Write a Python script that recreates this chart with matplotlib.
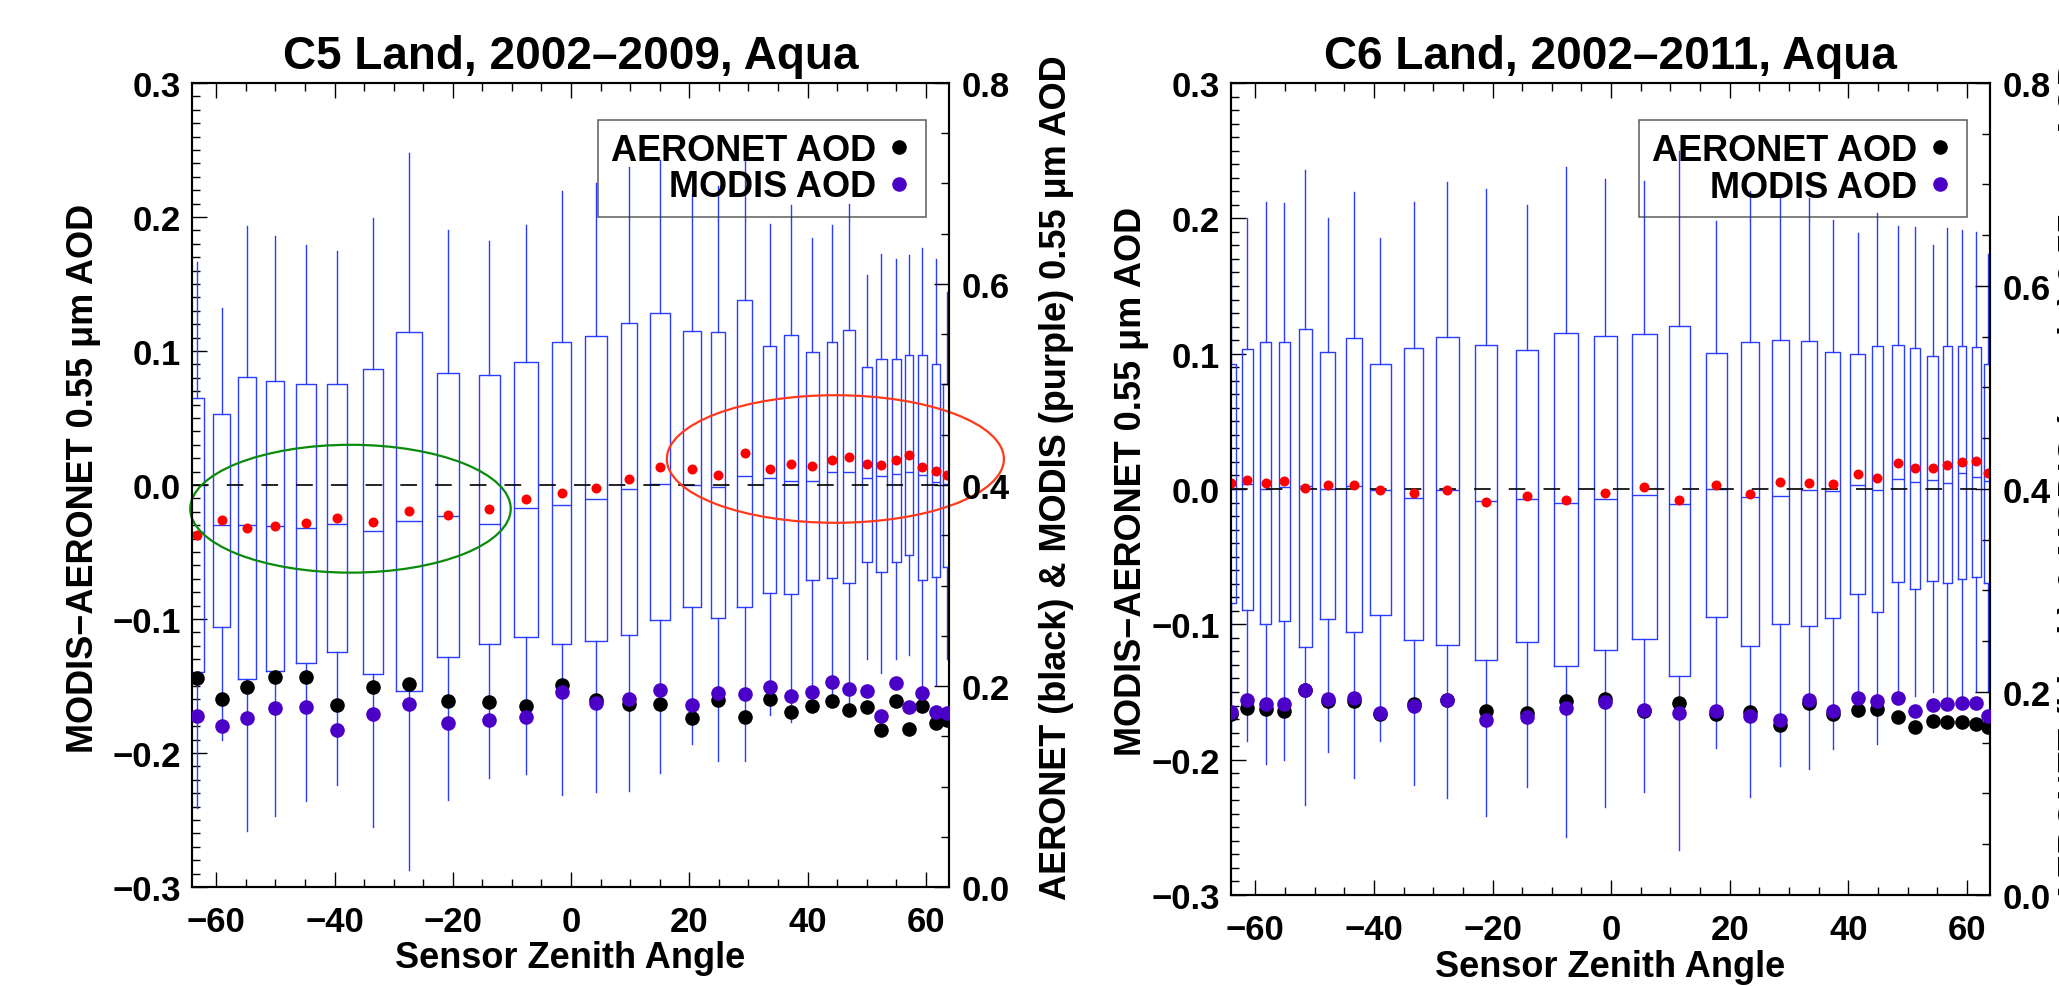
import matplotlib
matplotlib.use('Agg')
import matplotlib.pyplot as plt
from matplotlib.ticker import MultipleLocator
from matplotlib.patches import Ellipse
from matplotlib.lines import Line2D

plt.rcParams['font.family'] = ['Liberation Sans', 'DejaVu Sans']
plt.rcParams['font.weight'] = 'bold'
plt.rcParams['lines.scale_dashes'] = False

# ---- C5 (left panel) : box stats of MODIS-AERONET per zenith-angle bin ----
c5_sza = [-63.26, -59.1, -54.8, -50.06, -44.8, -39.6, -33.5, -27.4, -20.8, -13.8,
          -7.6, -1.6, 4.2, 9.8, 15.1, 20.5, 24.9, 29.4, 33.6, 37.2,
          40.8, 44.1, 47.0, 50.1, 52.5, 55.0, 57.2, 59.4, 61.7, 63.6]
c5_width = [2.3, 2.87, 2.9, 3.1, 3.26, 3.3, 3.5, 4.3, 3.7, 3.5,
            3.95, 3.3, 3.8, 2.8, 3.4, 3.05, 2.4, 2.5, 2.25, 2.4,
            2.2, 1.6, 1.9, 1.75, 1.75, 1.5, 1.4, 1.5, 1.35, 1.4]
c5_q3 = [0.0646, 0.0529, 0.0807, 0.0779, 0.0754, 0.075, 0.0864, 0.1143, 0.0839, 0.0818,
         0.0918, 0.1064, 0.1114, 0.1207, 0.1282, 0.1146, 0.1139, 0.1382, 0.1036, 0.1121,
         0.0989, 0.1064, 0.1154, 0.0879, 0.0939, 0.0939, 0.0971, 0.0971, 0.09, 0.0754]
c5_q1 = [-0.1396, -0.1057, -0.1446, -0.1389, -0.1329, -0.1246, -0.1414, -0.1539, -0.1286, -0.119,
         -0.1136, -0.119, -0.1164, -0.1121, -0.1007, -0.0907, -0.0996, -0.0914, -0.0804, -0.0811,
         -0.0711, -0.0693, -0.0732, -0.0575, -0.0646, -0.0571, -0.0521, -0.0711, -0.0689, -0.0611]
c5_med = [-0.035, -0.030, -0.030, -0.0307, -0.0318, -0.029, -0.0346, -0.0268, -0.0229, -0.029,
          -0.0168, -0.015, -0.0107, -0.0029, 0.0011, 0.0, -0.0014, 0.0064, 0.0054, 0.0032,
          0.0032, 0.01, 0.01, 0.0054, 0.0064, 0.0082, 0.01, 0.0075, 0.0021, 0.0011]
c5_whi = [0.1664, 0.1318, 0.1936, 0.186, 0.179, 0.1746, 0.1996, 0.2479, 0.19, 0.1818,
          0.1943, 0.2193, 0.2257, 0.2371, 0.2425, 0.2175, 0.223, 0.25, 0.195, 0.209,
          0.184, 0.194, 0.21, 0.157, 0.1725, 0.169, 0.172, 0.177, 0.169, 0.144]
c5_wlo = [-0.241, -0.19, -0.258, -0.247, -0.236, -0.224, -0.255, -0.287, -0.235, -0.219,
          -0.216, -0.231, -0.229, -0.228, -0.215, -0.193, -0.206, -0.206, -0.172, -0.177,
          -0.165, -0.165, -0.17, -0.130, -0.14, -0.13, -0.127, -0.152, -0.149, -0.13]
c5_mean = [-0.0371, -0.0261, -0.0318, -0.0307, -0.0286, -0.0246, -0.0275, -0.0196, -0.0221, -0.0182,
           -0.0107, -0.0061, -0.0021, 0.0043, 0.0136, 0.0118, 0.0075, 0.0236, 0.0118, 0.0157,
           0.0139, 0.0186, 0.0211, 0.0154, 0.0146, 0.0186, 0.0225, 0.0132, 0.0107, 0.0075]
c5_aeronet = [0.208, 0.187, 0.199, 0.209, 0.209, 0.181, 0.199, 0.202, 0.185, 0.184,
              0.180, 0.2005, 0.186, 0.182, 0.182, 0.1685, 0.186, 0.169, 0.187, 0.174,
              0.180, 0.185, 0.176, 0.1795, 0.156, 0.185, 0.1576, 0.180, 0.163, 0.166]
c5_modis = [0.170, 0.160, 0.168, 0.178, 0.1795, 0.156, 0.172, 0.182, 0.163, 0.166,
            0.169, 0.194, 0.183, 0.187, 0.196, 0.181, 0.193, 0.192, 0.199, 0.1905,
            0.194, 0.204, 0.197, 0.195, 0.170, 0.203, 0.1795, 0.193, 0.174, 0.173]

# ---- C6 (right panel) ----
c6_sza = [-64.1, -61.36, -58.24, -55.1, -51.6, -47.8, -43.4, -38.9, -33.3, -27.6,
          -21.1, -14.2, -7.64, -0.96, 5.6, 11.5, 17.75, 23.4, 28.5, 33.3,
          37.4, 41.6, 44.9, 48.4, 51.3, 54.2, 56.7, 59.2, 61.6, 63.6]
c6_width = [1.6, 1.8, 1.87, 2.0, 2.2, 2.55, 2.66, 3.4, 3.2, 3.9,
            3.7, 3.76, 4.16, 3.76, 4.3, 3.65, 3.54, 3.1, 2.9, 2.7,
            2.5, 2.47, 1.85, 2.1, 1.7, 1.7, 1.63, 1.35, 1.46, 1.4]
c6_q3 = [0.092, 0.1034, 0.1083, 0.1083, 0.1182, 0.1012, 0.1119, 0.0927, 0.1044, 0.1126,
         0.1062, 0.1027, 0.1154, 0.1133, 0.1143, 0.1207, 0.1005, 0.1086, 0.11, 0.1097,
         0.1012, 0.0998, 0.1058, 0.1065, 0.1043, 0.098, 0.1058, 0.1058, 0.105, 0.0923]
c6_q1 = [-0.0842, -0.0896, -0.0995, -0.0973, -0.1165, -0.0959, -0.1055, -0.0931, -0.1115, -0.115,
         -0.126, -0.1129, -0.1306, -0.119, -0.1111, -0.138, -0.0948, -0.116, -0.1001, -0.1015,
         -0.0952, -0.0778, -0.0906, -0.069, -0.0739, -0.0679, -0.0697, -0.0668, -0.0647, -0.0697]
c6_med = [0.0, 0.0035, 0.0, 0.0018, 0.0025, 0.0, 0.0021, -0.0007, -0.0064, -0.001,
          -0.0092, -0.0074, -0.0103, -0.0074, -0.0042, -0.0113, 0.0, -0.006, -0.005, -0.0007,
          -0.0018, 0.0028, -0.0007, 0.0074, 0.0053, 0.0064, 0.0046, 0.012, 0.0092, 0.0057]
c6_whi = [0.17, 0.2, 0.212, 0.2113, 0.236, 0.2, 0.2198, 0.1858, 0.212, 0.2265,
          0.2216, 0.21, 0.2382, 0.229, 0.2273, 0.25, 0.1977, 0.22, 0.215, 0.215,
          0.199, 0.189, 0.2037, 0.1946, 0.1935, 0.1804, 0.1928, 0.1914, 0.1896, 0.1737]
c6_wlo = [-0.18, -0.186, -0.203, -0.2, -0.2336, -0.1947, -0.2135, -0.186, -0.2184, -0.228,
          -0.2418, -0.2202, -0.257, -0.2347, -0.224, -0.267, -0.1917, -0.2278, -0.2048, -0.2066,
          -0.1924, -0.157, -0.1882, -0.153, -0.153, -0.1503, -0.153, -0.153, -0.15, -0.15]
c6_mean = [0.0042, 0.0067, 0.0042, 0.0057, 0.0007, 0.0028, 0.0032, -0.0004, -0.0028, -0.001,
           -0.0099, -0.005, -0.0078, -0.0028, 0.0018, -0.0085, 0.0032, -0.0035, 0.0053, 0.0042,
           0.0035, 0.0113, 0.0078, 0.0191, 0.0152, 0.0152, 0.018, 0.0198, 0.0205, 0.0117]
c6_aeronet = [0.178, 0.1843, 0.183, 0.1815, 0.2018, 0.191, 0.191, 0.178, 0.1885, 0.1923,
              0.1815, 0.179, 0.191, 0.193, 0.181, 0.189, 0.1788, 0.18, 0.167, 0.1887,
              0.178, 0.182, 0.183, 0.175, 0.166, 0.1717, 0.17, 0.17, 0.168, 0.166]
c6_modis = [0.180, 0.192, 0.1885, 0.188, 0.202, 0.193, 0.194, 0.179, 0.1866, 0.192,
            0.172, 0.1753, 0.184, 0.19, 0.182, 0.1796, 0.181, 0.1764, 0.1727, 0.1925,
            0.181, 0.194, 0.191, 0.194, 0.181, 0.187, 0.188, 0.189, 0.189, 0.176]

BLUE = '#2a3cff'
PURPLE = '#4b00c8'
FS_TICK = 25
FS_LAB = 26


def draw_panel(rect, sza, width, q3, q1, med, whi, wlo, mean, aer, mod, title,
               llab_x, rlab_x):
    ax = fig.add_axes(rect)
    stats = [dict(med=m, q1=lo, q3=hi, whislo=wl, whishi=wh)
             for m, lo, hi, wl, wh in zip(med, q1, q3, wlo, whi)]
    line = dict(color=BLUE, lw=1.0)
    ax.bxp(stats, positions=sza, widths=width, showfliers=False, showcaps=False,
           manage_ticks=False, boxprops=line, whiskerprops=line, medianprops=line)
    ax.axhline(0, color='k', lw=1.2, dashes=(12, 13), zorder=3)
    ax.plot(sza, mean, 'o', color='red', ms=7.2, mew=0, zorder=4)

    ax.set_xlim(-64.1, 63.9)
    ax.set_ylim(-0.3, 0.3)
    ax.xaxis.set_major_locator(MultipleLocator(20))
    ax.xaxis.set_minor_locator(MultipleLocator(5))
    ax.yaxis.set_major_locator(MultipleLocator(0.1))
    ax.yaxis.set_minor_locator(MultipleLocator(0.01))
    ax.yaxis.set_major_formatter(lambda v, p: f'{v:.1f}'.replace('-', '\u2212'))
    ax.tick_params(which='both', direction='in', top=True, right=False, width=1.0,
                   labelsize=FS_TICK)
    ax.tick_params(which='major', length=11)
    ax.tick_params(which='minor', length=6)
    ax.tick_params(axis='x', pad=13)
    ax.tick_params(axis='y', pad=8)
    for s in ax.spines.values():
        s.set_linewidth(1.5)

    ax.set_title(title, fontsize=33, fontweight='bold', pad=11)
    ax.set_xlabel('Sensor Zenith Angle', fontsize=FS_LAB, fontweight='bold')
    ax.xaxis.set_label_coords(0.5, -0.066)
    ax.set_ylabel('MODIS\u2212AERONET 0.55 \u03bcm AOD', fontsize=FS_LAB, fontweight='bold')
    ax.yaxis.set_label_coords(llab_x, 0.51)

    ax2 = ax.twinx()
    ax2.plot(sza, aer, 'o', color='black', ms=10.5, mew=0, zorder=3)
    ax2.plot(sza, mod, 'o', color=PURPLE, ms=10.5, mew=0, zorder=4)
    ax2.set_ylim(0, 0.8)
    ax2.yaxis.set_major_locator(MultipleLocator(0.2))
    ax2.yaxis.set_minor_locator(MultipleLocator(0.05))
    ax2.yaxis.set_major_formatter(lambda v, p: f'{v:.1f}')
    ax2.tick_params(which='both', direction='in', width=1.0, labelsize=FS_TICK, pad=9)
    ax2.tick_params(which='major', length=11)
    ax2.tick_params(which='minor', length=6)
    for s in ax2.spines.values():
        s.set_linewidth(1.5)
    ax2.set_ylabel('AERONET (black) & MODIS (purple) 0.55 \u03bcm AOD',
                   fontsize=FS_LAB, fontweight='bold')
    ax2.yaxis.set_label_coords(rlab_x, 0.51)

    handles = [Line2D([], [], ls='none', marker='o', color='black', ms=10.5, mew=0,
                      label='AERONET AOD'),
               Line2D([], [], ls='none', marker='o', color=PURPLE, ms=10.5, mew=0,
                      label='MODIS AOD')]
    leg = ax2.legend(handles=handles, markerfirst=False, loc='upper right',
                     bbox_to_anchor=(0.970, 0.954), borderaxespad=0,
                     prop=dict(size=FS_LAB, weight='bold'), fancybox=False,
                     edgecolor='#333333', facecolor='none', framealpha=None,
                     handlelength=0.8, handletextpad=0.25, borderpad=0.35,
                     labelspacing=0.05)
    leg.get_frame().set_linewidth(1.1)
    return ax


fig = plt.figure(figsize=(20.59, 9.87), dpi=100)

ax_c5 = draw_panel([0.09325, 0.1003, 0.3676, 0.8146], c5_sza, c5_width, c5_q3, c5_q1,
                   c5_med, c5_whi, c5_wlo, c5_mean, c5_aeronet, c5_modis,
                   'C5 Land, 2002\u20132009, Aqua', -0.120, 1.119)
ax_c5.add_patch(Ellipse((-37.3, -0.0177), 54.2, 0.0954, fill=False, color='#0b8a0b',
                        lw=1.6, clip_on=False, zorder=5))
ax_c5.add_patch(Ellipse((44.7, 0.0194), 57.0, 0.0952, fill=False, color='#ff3a1a',
                        lw=1.6, clip_on=False, zorder=5))

draw_panel([0.5979, 0.0922, 0.3686, 0.8227], c6_sza, c6_width, c6_q3, c6_q1,
           c6_med, c6_whi, c6_wlo, c6_mean, c6_aeronet, c6_modis,
           'C6 Land, 2002\u20132011, Aqua', -0.108, 1.089)

fig.savefig('out.png', dpi=100)
